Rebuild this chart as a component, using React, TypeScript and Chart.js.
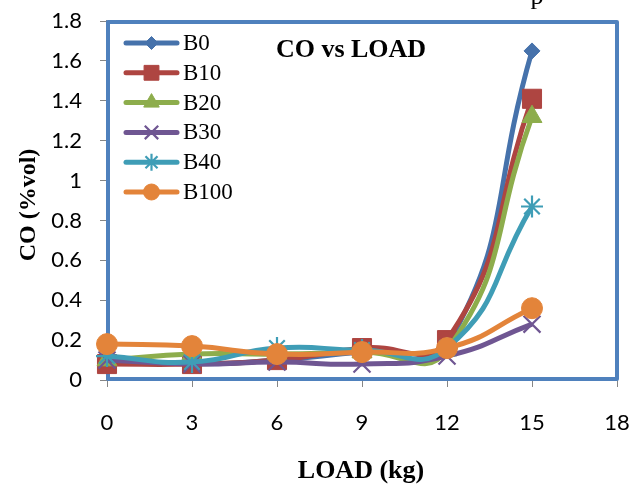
import React, { useEffect, useRef } from 'react';
import { Chart, registerables } from 'chart.js';
import { drawPoint } from 'chart.js/helpers';

Chart.register(...registerables);

// ---- data ----
const loads = [0, 3, 6, 9, 12, 15];
const seriesNames = ['B0', 'B10', 'B20', 'B30', 'B40', 'B100'];
const b0 = [0.1, 0.08, 0.1, 0.14, 0.17, 1.65];
const b10 = [0.08, 0.08, 0.1, 0.16, 0.2, 1.41];
const b20 = [0.1, 0.13, 0.13, 0.14, 0.15, 1.32];
const b30 = [0.1, 0.08, 0.09, 0.08, 0.12, 0.28];
const b40 = [0.12, 0.09, 0.16, 0.15, 0.16, 0.87];
const b100 = [0.18, 0.17, 0.13, 0.14, 0.16, 0.36];
const seriesValues = [b0, b10, b20, b30, b40, b100];
const xMin = 0;
const xMax = 18;
const xStep = 3;
const yMin = 0;
const yMax = 1.8;
const yStep = 0.2;
const chartTitle = 'CO vs LOAD';
const xTitle = 'LOAD (kg)';
const yTitle = 'CO (%vol)';

// ---- styles ----
const colors = ['#4672AB', '#AE4541', '#8DAD4C', '#6F5692', '#3F9DB6', '#E3843A'];
const pointStyles = ['rectRot', 'rect', 'triangle', 'crossRot', 'star', 'circle'];
const pointRadii = [8, 13.5, 11.5, 12, 11, 10.5];
const pointBorders = [1, 1, 1, 2.2, 2.2, 1];
const legendRadii = [6.5, 10.5, 9, 9.5, 8.5, 8];

const overlayPlugin = {
  id: 'overlay',
  beforeDatasetsDraw(chart: any) {
    const { ctx, chartArea: ca } = chart;
    ctx.save();
    ctx.strokeStyle = '#4F81BD';
    ctx.lineWidth = 4;
    ctx.lineJoin = 'round';
    ctx.strokeRect(ca.left + 1, ca.top + 1, ca.right - ca.left - 1, ca.bottom - ca.top - 2);
    ctx.restore();
  },
  afterDatasetsDraw(chart: any) {
    const { ctx } = chart;
    ctx.save();
    // legend
    for (let i = 0; i < seriesNames.length; i++) {
      const y = 43 + i * 29.8;
      ctx.strokeStyle = colors[i];
      ctx.fillStyle = colors[i];
      ctx.lineWidth = 5;
      ctx.lineCap = 'round';
      ctx.beginPath();
      ctx.moveTo(126, y);
      ctx.lineTo(177, y);
      ctx.stroke();
      ctx.lineWidth = pointBorders[i];
      ctx.lineCap = 'butt';
      drawPoint(ctx, { pointStyle: pointStyles[i], rotation: 0, radius: legendRadii[i], borderWidth: pointBorders[i] } as any, 151.5, y);
      ctx.fillStyle = '#000';
      ctx.font = '23px "Liberation Serif"';
      ctx.textAlign = 'left';
      ctx.textBaseline = 'middle';
      ctx.fillText(seriesNames[i], 183, y + 1);
    }
    // title
    ctx.fillStyle = '#000';
    ctx.font = 'bold 26px "Liberation Serif"';
    ctx.textAlign = 'center';
    ctx.textBaseline = 'alphabetic';
    ctx.fillText(chartTitle, 351, 57);
    // axis titles
    ctx.fillText(xTitle, 361, 478);
    ctx.save();
    ctx.translate(35, 205);
    ctx.rotate(-Math.PI / 2);
    ctx.font = 'bold 24px "Liberation Serif"';
    ctx.fillText(yTitle, 0, 0);
    ctx.restore();
    // clipped text at top edge
    ctx.font = '26px "Liberation Serif"';
    ctx.fillText('p', 537, 4);
    ctx.restore();
  },
};

export default function App() {
  const ref = useRef<HTMLCanvasElement | null>(null);
  useEffect(() => {
    document.body.style.margin = '0';
    const canvas = ref.current!;
    const datasets = seriesNames.map((name, i) => ({
      label: name,
      data: loads.map((x, j) => ({ x, y: seriesValues[i][j] })),
      borderColor: colors[i],
      backgroundColor: colors[i],
      borderWidth: 5,
      tension: 0.5,
      pointStyle: pointStyles[i],
      pointRadius: pointRadii[i],
      pointHoverRadius: pointRadii[i],
      pointBorderWidth: pointBorders[i],
      pointBackgroundColor: colors[i],
      pointBorderColor: colors[i],
      clip: false as any,
      order: seriesNames.length - i,
    }));
    const zeroPad = (s: any) => {
      s.paddingTop = 0;
      s.paddingBottom = 0;
      s.paddingLeft = 0;
      s.paddingRight = 0;
    };
    const chart = new Chart(canvas, {
      type: 'line',
      data: { datasets },
      plugins: [overlayPlugin],
      options: {
        responsive: false,
        animation: false,
        devicePixelRatio: 1,
        layout: { padding: { top: 21, right: 15, left: 0, bottom: 0 } },
        plugins: { legend: { display: false }, tooltip: { enabled: false }, title: { display: false } },
        scales: {
          x: {
            type: 'linear',
            min: xMin,
            max: xMax,
            ticks: {
              stepSize: xStep,
              color: '#000',
              font: { family: 'Lato', size: 22 },
              padding: 23,
            },
            grid: { drawOnChartArea: false, drawTicks: true, tickLength: 7, color: '#868686' },
            border: { display: true, color: '#868686', width: 1.5 },
            afterFit: (s: any) => { s.height = 105; zeroPad(s); },
          },
          y: {
            type: 'linear',
            min: yMin,
            max: yMax,
            ticks: {
              stepSize: yStep,
              color: '#000',
              font: { family: 'Lato', size: 22 },
              padding: 18,
              callback: (v: any) => String(Math.round(Number(v) * 10) / 10),
            },
            grid: { drawOnChartArea: false, drawTicks: true, tickLength: 7, color: '#868686' },
            border: { display: true, color: '#868686', width: 1.5 },
            afterFit: (s: any) => { s.width = 107; zeroPad(s); },
          },
        },
      },
    });
    return () => chart.destroy();
  }, []);
  return (
    <div style={{ width: 632, height: 485 }}>
      <canvas ref={ref} width={632} height={485} />
    </div>
  );
}
